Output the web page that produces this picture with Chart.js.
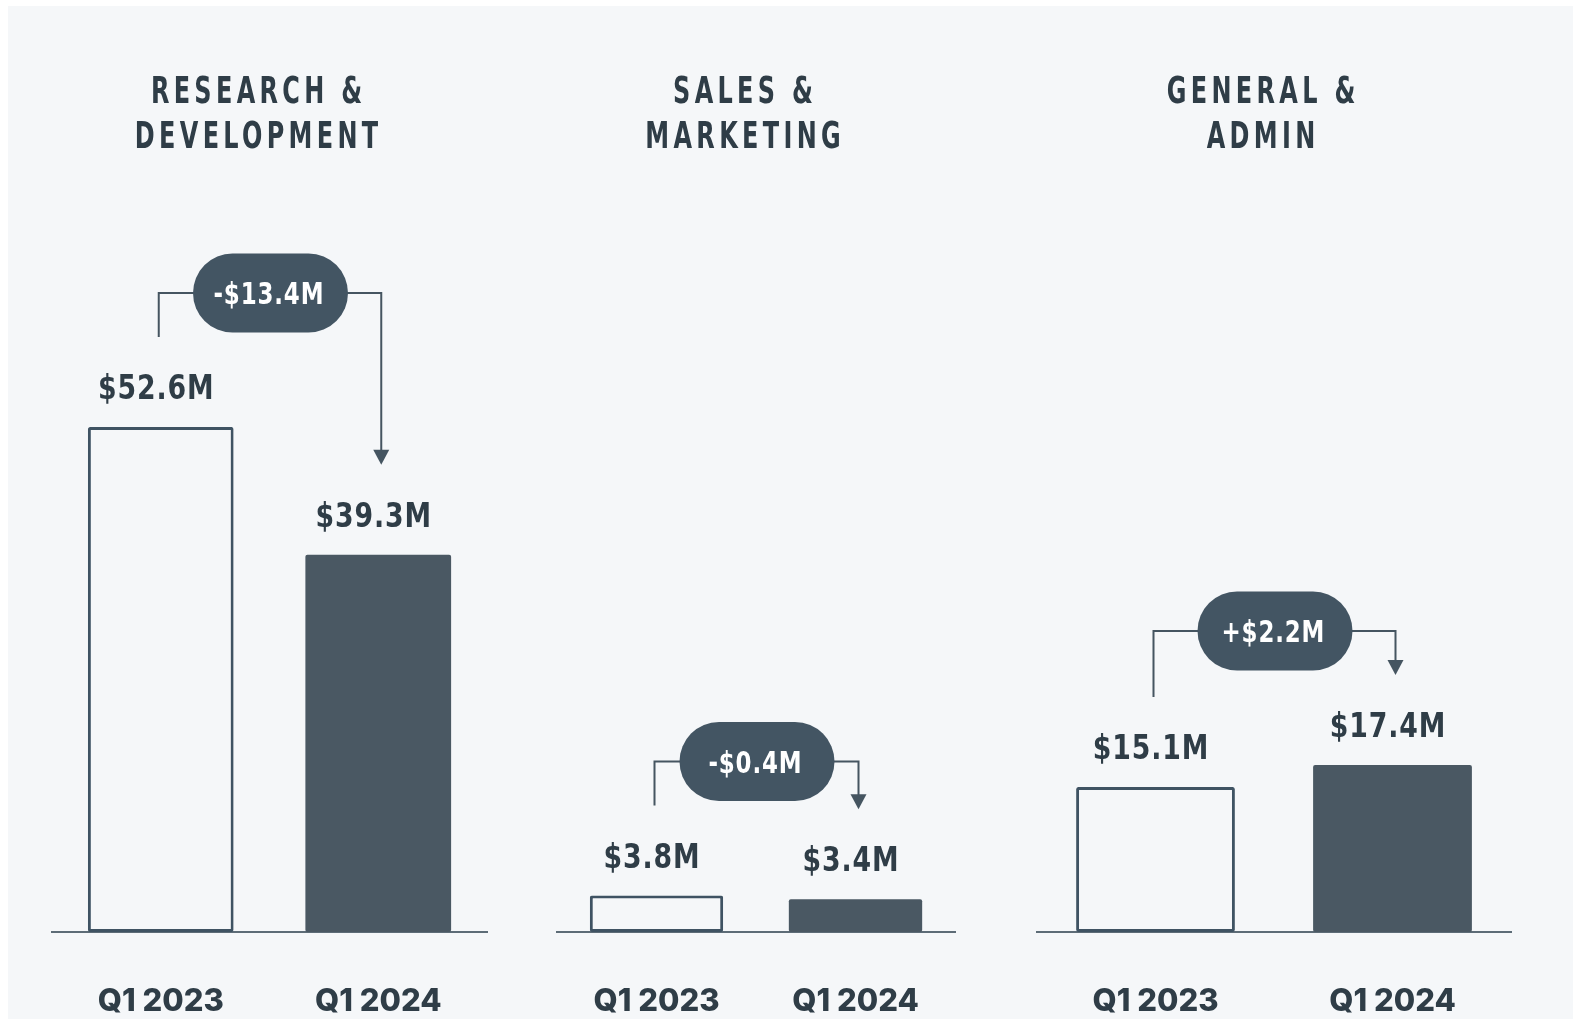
<!DOCTYPE html>
<html>
<head>
<meta charset="utf-8">
<script src="https://cdn.jsdelivr.net/npm/chart.js@4/dist/chart.umd.min.js"></script>
<style>
  html, body { margin: 0; padding: 0; background: #ffffff; }
  body { width: 1573px; height: 1019px; position: relative; overflow: hidden; }
  #panel { position: absolute; left: 8px; top: 6px; right: 0; bottom: 0; background: #f5f7f9; }
  canvas.c { position: absolute; top: 0; }
</style>
</head>
<body>
<div id="panel"></div>
<canvas class="c" id="c0"></canvas>
<canvas class="c" id="c1"></canvas>
<canvas class="c" id="c2"></canvas>
<script>
// ---------- data ----------
const panelTitles = [["RESEARCH &", "DEVELOPMENT"], ["SALES &", "MARKETING"], ["GENERAL &", "ADMIN"]];
const periods = ["Q1 2023", "Q1 2024"];
const q1_2023 = [52.6, 3.8, 15.1];
const q1_2024 = [39.3, 3.4, 17.4];
const changeLabels = ["-$13.4M", "-$0.4M", "+$2.2M"];
const yMax = 60;

// ---------- layout / style ----------
const axisSpans = [[52, 487], [557, 955], [1037, 1511]];
const MARGIN = 60;
const BASE_Y = 932;
const H = 1019;
const TOP_PAD = 356;
const BG = '#f5f7f9';
const DARK = '#4a5863';
const OUTLINE = '#3f5363';
const TEXT = '#2f3d47';
const PILL = '#435563';
const LINE = '#455561';
const COND = "'DejaVu Sans Condensed', 'DejaVu Sans', sans-serif";

function fmt(v) { return '$' + v.toFixed(1) + 'M'; }

function squeezedText(ctx, text, x, y, font, spacing, sx) {
  ctx.save();
  ctx.font = font;
  ctx.letterSpacing = spacing + 'px';
  ctx.textAlign = 'center';
  ctx.translate(x + spacing * sx / 2, y);
  ctx.scale(sx, 1);
  ctx.fillText(text, 0, 0);
  ctx.restore();
}

const annotate = {
  id: 'annotate',
  afterDatasetsDraw(chart, args, opts) {
    const ctx = chart.ctx;
    const ca = chart.chartArea;
    const bars = chart.getDatasetMeta(0).data;
    const vals = chart.data.datasets[0].data;
    ctx.save();
    ctx.textBaseline = 'alphabetic';
    // titles
    ctx.fillStyle = TEXT;
    const tx = (ca.left + ca.right) / 2 - 13;
    const tFont = 'bold 37px ' + COND;
    squeezedText(ctx, opts.title[0], tx, 103, tFont, 6, 0.72);
    squeezedText(ctx, opts.title[1], tx, 148, tFont, 6, 0.72);

    // value labels
    const vFont = 'bold 33px ' + COND;
    const tops = [];
    bars.forEach((b, i) => {
      const by = b.y - 28;
      ctx.fillStyle = TEXT;
      squeezedText(ctx, fmt(vals[i]), b.x - 5, by, vFont, 1, 0.9);
      tops.push(by - 24);
    });

    // connector + pill
    const pillW = 155, pillH = 79;
    const pillCy = Math.min(tops[0], tops[1]) - 82;
    const pillCx = (bars[0].x + bars[1].x) / 2 + 1;
    const lx = bars[0].x - 2;
    const rx = bars[1].x + 3;
    const tip = tops[1] - 38;
    ctx.strokeStyle = LINE;
    ctx.lineWidth = 2;
    ctx.beginPath();
    ctx.moveTo(lx, tops[0] - 38);
    ctx.lineTo(lx, pillCy);
    ctx.lineTo(rx, pillCy);
    ctx.lineTo(rx, tip - 12);
    ctx.stroke();
    ctx.fillStyle = LINE;
    ctx.beginPath();
    ctx.moveTo(rx - 8, tip - 15);
    ctx.lineTo(rx + 8, tip - 15);
    ctx.lineTo(rx, tip);
    ctx.closePath();
    ctx.fill();

    ctx.fillStyle = PILL;
    ctx.beginPath();
    ctx.roundRect(pillCx - pillW / 2, pillCy - pillH / 2, pillW, pillH, pillH / 2);
    ctx.fill();
    ctx.fillStyle = '#ffffff';
    squeezedText(ctx, opts.change, pillCx - 2, pillCy + 11, 'bold 30px ' + COND, 1, 0.85);
    ctx.restore();
  }
};

function makeChart(i) {
  const [axL, axR] = axisSpans[i];
  const cv = document.getElementById('c' + i);
  const w = axR - axL + 2 * MARGIN;
  cv.style.left = (axL - MARGIN) + 'px';
  cv.style.width = w + 'px';
  cv.style.height = H + 'px';
  cv.width = w; cv.height = H;
  return new Chart(cv, {
    type: 'bar',
    data: {
      labels: periods,
      datasets: [{
        data: [q1_2023[i], q1_2024[i]],
        backgroundColor: [BG, DARK],
        borderColor: [OUTLINE, DARK],
        borderWidth: [3, 0],
        borderSkipped: false,
        borderRadius: 2,
        barPercentage: 0.67,
        categoryPercentage: 1.0
      }]
    },
    options: {
      responsive: false,
      animation: false,
      devicePixelRatio: 1,
      layout: { padding: { left: MARGIN, right: MARGIN, top: TOP_PAD, bottom: 0 } },
      plugins: {
        legend: { display: false },
        tooltip: { enabled: false },
        annotate: { title: panelTitles[i], change: changeLabels[i] }
      },
      scales: {
        x: {
          grid: { display: false, drawTicks: false },
          border: { display: true, color: '#5d6c77', width: 2 },
          ticks: { color: TEXT, font: { family: 'Inter', weight: '800', size: 31 }, padding: 51 },
          afterFit(s) { s.height = H - BASE_Y; }
        },
        y: { display: false, min: 0, max: yMax }
      }
    },
    plugins: [annotate]
  });
}
[0, 1, 2].forEach(makeChart);
</script>
</body>
</html>
